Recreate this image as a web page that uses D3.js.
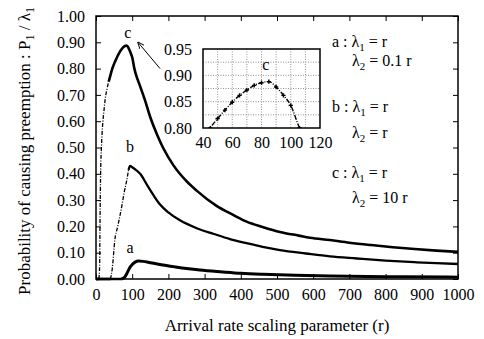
<!DOCTYPE html>
<html>
<head>
<meta charset="utf-8">
<script src="https://cdn.jsdelivr.net/npm/d3@7"></script>
<style>
  body { margin: 0; background: #fff; }
  svg { font-family: "Liberation Serif", "DejaVu Serif", serif; }
  .axis line { stroke: #000; stroke-width: 1; }
</style>
</head>
<body>
<svg id="chart" width="484" height="339"></svg>
<script>
// arrival rate r and probability P1/lambda1
const cR = [0, 8, 10, 11, 12, 13, 15, 18, 22, 26, 30, 35, 40, 45, 50, 55, 60, 65, 70, 75, 80, 85, 90, 95, 100, 106, 112, 120, 135, 150, 170, 186, 214, 250, 278, 333, 380, 416, 460, 508, 560, 591, 646, 700, 760, 820, 880, 940, 1000];
const cP = [0, 0, 0.05, 0.2, 0.33, 0.42, 0.5, 0.58, 0.64, 0.69, 0.72, 0.75, 0.775, 0.8, 0.818, 0.834, 0.849, 0.862, 0.872, 0.881, 0.886, 0.888, 0.878, 0.862, 0.843, 0.8, 0.77, 0.74, 0.681, 0.615, 0.545, 0.497, 0.432, 0.372, 0.336, 0.278, 0.243, 0.218, 0.198, 0.179, 0.165, 0.157, 0.148, 0.138, 0.129, 0.121, 0.114, 0.108, 0.103];

const bR = [0, 40, 45, 52, 60, 71, 78, 85, 90, 94, 100, 110, 122, 140, 160, 177, 200, 232, 280, 324, 370, 416, 460, 508, 580, 646, 720, 800, 880, 940, 1000];
const bP = [0, 0, 0.04, 0.148, 0.2, 0.275, 0.33, 0.376, 0.415, 0.43, 0.425, 0.415, 0.4, 0.36, 0.316, 0.283, 0.253, 0.223, 0.192, 0.172, 0.152, 0.136, 0.122, 0.11, 0.097, 0.086, 0.078, 0.07, 0.064, 0.06, 0.057];

const aR = [0, 70, 78, 85, 92, 100, 108, 117, 130, 150, 180, 214, 250, 287, 350, 400, 461, 550, 646, 750, 850, 1000];
const aP = [0, 0, 0.005, 0.02, 0.04, 0.055, 0.064, 0.068, 0.067, 0.062, 0.054, 0.047, 0.04, 0.034, 0.027, 0.022, 0.018, 0.014, 0.011, 0.0095, 0.0085, 0.007];

const xTicks = [0, 100, 200, 300, 400, 500, 600, 700, 800, 900, 1000];
const yTicks = [0, 0.1, 0.2, 0.3, 0.4, 0.5, 0.6, 0.7, 0.8, 0.9, 1.0];
const insetXTicks = [40, 60, 80, 100, 120];
const insetYTicks = [0.80, 0.85, 0.90, 0.95];

const svg = d3.select("#chart");
const m = {left: 96, right: 458, top: 16, bottom: 279};

const x = d3.scaleLinear().domain([0, 1000]).range([m.left, m.right]);
const y = d3.scaleLinear().domain([0, 1]).range([m.bottom, m.top]);

function styleAxis(g) {
  g.select(".domain").remove();
  g.attr("font-family", "Liberation Serif").attr("font-size", 16);
  g.selectAll("text")
    .attr("font-family", "Liberation Serif")
    .style("font-family", "'Liberation Serif', serif")
    .style("font-size", "16px")
    .attr("fill", "#000");
}

// axes with inward ticks, mirrored on top/right
svg.append("g").attr("class", "axis")
  .attr("transform", "translate(0," + m.bottom + ")")
  .call(d3.axisBottom(x).tickValues(xTicks).tickSize(-5).tickPadding(10).tickFormat(d3.format("d")))
  .call(styleAxis);
svg.append("g").attr("class", "axis")
  .attr("transform", "translate(0," + m.top + ")")
  .call(d3.axisTop(x).tickValues(xTicks).tickSize(-5).tickFormat(""))
  .call(styleAxis);
svg.append("g").attr("class", "axis")
  .attr("transform", "translate(" + m.left + ",0)")
  .call(d3.axisLeft(y).tickValues(yTicks).tickSize(-5).tickPadding(11).tickFormat(d3.format(".2f")))
  .call(styleAxis);
svg.append("g").attr("class", "axis")
  .attr("transform", "translate(" + m.right + ",0)")
  .call(d3.axisRight(y).tickValues(yTicks).tickSize(-5).tickFormat(""))
  .call(styleAxis);

svg.append("rect")
  .attr("x", m.left).attr("y", m.top)
  .attr("width", m.right - m.left).attr("height", m.bottom - m.top)
  .attr("fill", "none").attr("stroke", "#000").attr("stroke-width", 1.5);

// curves: thin dash-dot where the sample points are sparse, thick after
const line = d3.line().x(d => x(d[0])).y(d => y(d[1])).curve(d3.curveMonotoneX);
function drawSeries(rs, ps, split, width) {
  const pts = rs.map((r, i) => [r, ps[i]]);
  const flat = pts.filter(d => d[1] === 0);
  const rise = pts.filter((d, i) => d[0] <= split && (d[1] > 0 || (pts[i + 1] && pts[i + 1][1] > 0)));
  const rest = pts.filter(d => d[0] >= split);
  svg.append("path").attr("d", line(flat))
    .attr("fill", "none").attr("stroke", "#000").attr("stroke-width", 2.5);
  svg.append("path").attr("d", line(rise))
    .attr("fill", "none").attr("stroke", "#000").attr("stroke-width", 1.3)
    .attr("stroke-dasharray", "4,1.5,1,1.5");
  svg.append("path").attr("d", line(rest))
    .attr("fill", "none").attr("stroke", "#000").attr("stroke-width", width)
    .attr("stroke-linejoin", "round");
}
drawSeries(cR, cP, 35, 2.6);
drawSeries(bR, bP, 90, 2.3);
drawSeries(aR, aP, 70, 3);

// curve labels
svg.append("text").attr("x", x(88)).attr("y", y(0.916)).attr("text-anchor", "middle")
  .style("font-size", "16px").text("c");
svg.append("text").attr("x", x(94)).attr("y", y(0.483)).attr("text-anchor", "middle")
  .style("font-size", "16px").text("b");
svg.append("text").attr("x", x(94)).attr("y", y(0.1)).attr("text-anchor", "middle")
  .style("font-size", "16px").text("a");

// arrow from inset to the c peak
svg.append("defs").append("marker")
  .attr("id", "arrow").attr("viewBox", "0 0 10 10")
  .attr("refX", 9).attr("refY", 5)
  .attr("markerWidth", 7).attr("markerHeight", 7)
  .attr("orient", "auto")
  .append("path").attr("d", "M0,1 L10,5 L0,9").attr("fill", "none").attr("stroke", "#000").attr("stroke-width", 1.3);
svg.append("line")
  .attr("x1", x(177)).attr("y1", y(0.80))
  .attr("x2", x(116)).attr("y2", y(0.90))
  .attr("stroke", "#000").attr("stroke-width", 1)
  .attr("marker-end", "url(#arrow)");

// inset zoom on the c peak
const ix = d3.scaleLinear().domain([40, 120]).range([203, 320]);
const iy = d3.scaleLinear().domain([0.80, 0.95]).range([128, 49]);
const inset = svg.append("g");
inset.append("rect").attr("x", 203).attr("y", 49).attr("width", 117).attr("height", 79).attr("fill", "#fff");
inset.append("g").selectAll("line").data(d3.range(50, 120, 10)).join("line")
  .attr("x1", d => ix(d)).attr("x2", d => ix(d)).attr("y1", 49).attr("y2", 128)
  .attr("stroke", "#777").attr("stroke-width", 0.8).attr("stroke-dasharray", "1,1.5");
inset.append("g").selectAll("line").data([0.825, 0.85, 0.875, 0.9, 0.925]).join("line")
  .attr("x1", 203).attr("x2", 320).attr("y1", d => iy(d)).attr("y2", d => iy(d))
  .attr("stroke", "#777").attr("stroke-width", 0.8).attr("stroke-dasharray", "1,1.5");
inset.append("g").attr("class", "axis")
  .attr("transform", "translate(0,128)")
  .call(d3.axisBottom(ix).tickValues(insetXTicks).tickSize(0).tickPadding(9))
  .call(styleAxis);
inset.append("g").attr("class", "axis")
  .attr("transform", "translate(203,0)")
  .call(d3.axisLeft(iy).tickValues(insetYTicks).tickSize(0).tickPadding(11).tickFormat(d3.format(".2f")))
  .call(styleAxis);

const insetPts = cR.map((r, i) => [r, cP[i]]).filter(d => d[0] >= 40 && d[0] <= 112);
inset.append("clipPath").attr("id", "insetClip")
  .append("rect").attr("x", 203).attr("y", 49).attr("width", 117).attr("height", 79);
const iline = d3.line().x(d => ix(d[0])).y(d => iy(d[1])).curve(d3.curveMonotoneX);
inset.append("path").attr("d", iline(insetPts)).attr("clip-path", "url(#insetClip)")
  .attr("fill", "none").attr("stroke", "#000").attr("stroke-width", 1.4)
  .attr("stroke-dasharray", "5,1.5,1,1.5");
inset.append("g").attr("clip-path", "url(#insetClip)")
  .selectAll("path").data(insetPts).join("path")
  .attr("transform", d => "translate(" + ix(d[0]) + "," + iy(d[1]) + ")")
  .attr("d", d3.symbol(d3.symbolCross, 10))
  .attr("fill", "#000");
inset.append("rect").attr("x", 203).attr("y", 49).attr("width", 117).attr("height", 79)
  .attr("fill", "none").attr("stroke", "#000").attr("stroke-width", 1.5);
inset.append("text").attr("x", ix(83)).attr("y", iy(0.911)).attr("text-anchor", "middle")
  .style("font-size", "16px").text("c");

// legend
function lam(g, px, py, prefix, sub, rhs) {
  const t = g.append("text").attr("x", px).attr("y", py).style("font-size", "16px");
  t.append("tspan").text(prefix + "\u03bb");
  t.append("tspan").attr("dy", 4).style("font-size", "11px").text(sub);
  t.append("tspan").attr("dy", -4).text(" = " + rhs);
}
const lg = svg.append("g");
lam(lg, 332, 47, "a : ", "1", "r");
lam(lg, 352, 66, "", "2", "0.1 r");
lam(lg, 332, 112, "b : ", "1", "r");
lam(lg, 352, 138, "", "2", "r");
lam(lg, 332, 178, "c : ", "1", "r");
lam(lg, 352, 203, "", "2", "10 r");

// axis titles
svg.append("text").attr("x", (m.left + m.right) / 2).attr("y", 331)
  .attr("text-anchor", "middle").style("font-size", "17px")
  .text("Arrival rate scaling parameter (r)");
const yl = svg.append("text")
  .attr("transform", "translate(30,151) rotate(-90)")
  .attr("text-anchor", "middle").style("font-size", "17px");
yl.append("tspan").text("Probability of causing preemption : P");
yl.append("tspan").attr("dy", 4).style("font-size", "12px").text("1");
yl.append("tspan").attr("dy", -4).text(" / \u03bb");
yl.append("tspan").attr("dy", 4).style("font-size", "12px").text("1");
</script>
</body>
</html>
